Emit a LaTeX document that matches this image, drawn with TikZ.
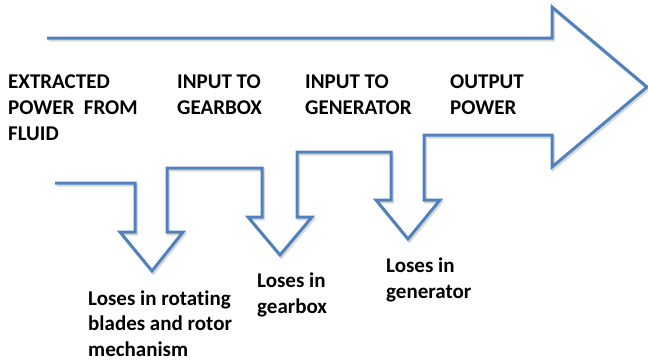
\documentclass[tikz,border=0pt]{standalone}
\usepackage{fontspec}
\setmainfont[Ligatures=NoCommon]{Carlito}
\definecolor{flowblue}{HTML}{4F81BD}
\begin{document}
\begin{tikzpicture}[x=1pt,y=-1pt,
  flow/.style={draw=flowblue,line width=3pt,line join=miter},
  shade/.style={draw=black!25,line width=3pt,opacity=0.6},
  lbl/.style={inner sep=0pt,align=left,anchor=base west,font=\bfseries\fontsize{21}{26}\selectfont}]
\useasboundingbox (0,0) rectangle (648,362);
\def\flowpath{(47,38) -- (552,38) -- (552,7) -- (647,87) -- (552,167) -- (552,135) -- (424,135) -- (424,200) -- (440,200) -- (408,239) -- (376,200) -- (391,200) -- (391,152) -- (297,152) -- (297,217) -- (312,217) -- (280,255) -- (248,217) -- (262,217) -- (262,168) -- (167,168) -- (167,232) -- (183,232) -- (152,271) -- (120,232) -- (135,232) -- (135,183) -- (55,183)}
\draw[shade,shift={(1.5,2)}] \flowpath;
\draw[flow] \flowpath;
\node[lbl] (extracted) at (8,140) {EXTRACTED\\POWER~ FROM\\FLUID};
\node[lbl] (gearin) at (177,114) {INPUT TO\\GEARBOX};
\node[lbl] (genin) at (305,114) {INPUT TO\\GENERATOR};
\node[lbl] (output) at (450,114) {OUTPUT\\POWER};
\node[lbl,font=\bfseries\fontsize{21}{25.5}\selectfont] (loss1) at (88,356) {Loses in rotating\\blades and rotor\\mechanism};
\node[lbl,font=\bfseries\fontsize{21}{25.5}\selectfont] (loss2) at (257,313) {Loses in\\gearbox};
\node[lbl,font=\bfseries\fontsize{21}{25.5}\selectfont] (loss3) at (386,298) {Loses in\\generator};
\end{tikzpicture}
\end{document}
